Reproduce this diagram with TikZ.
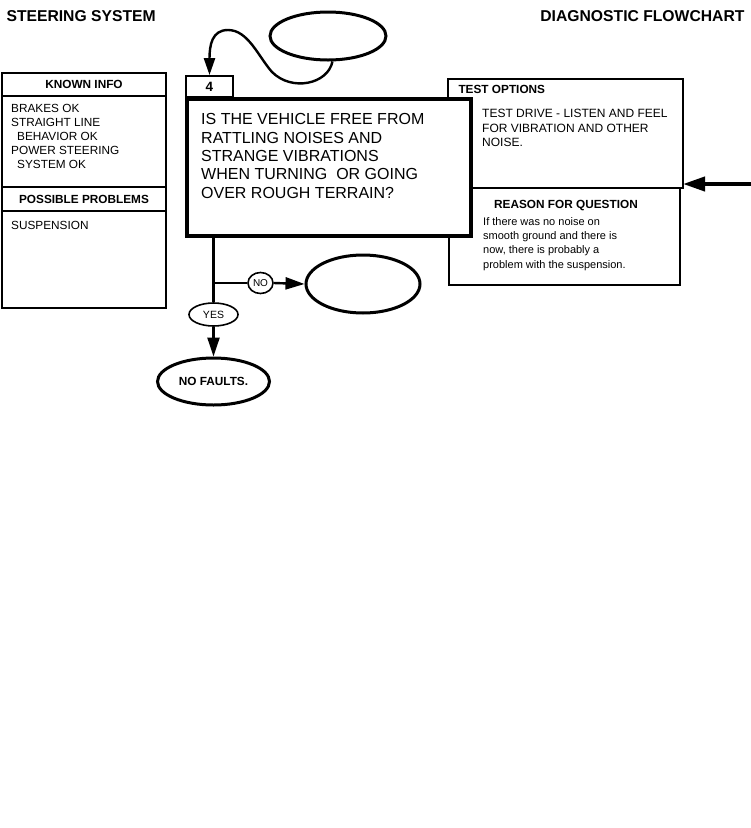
\documentclass[tikz,border=0pt]{standalone}
\usepackage{fontspec}
\setmainfont{Liberation Sans}
\usetikzlibrary{shapes.geometric, arrows.meta, positioning}

\tikzset{
  box/.style={draw, line width=1.8pt, inner sep=0pt, outer sep=0pt, minimum width=164pt},
  hdr/.style={font=\bfseries\fontsize{11.8}{14}\selectfont},
  txt/.style={anchor=north west, inner sep=0pt, align=left, font=\fontsize{11.8}{14}\selectfont},
  oval/.style={ellipse, draw, line width=3pt, inner sep=0pt},
  tag/.style={ellipse, draw, line width=1.6pt, inner sep=0pt},
  link/.style={line width=2.4pt},
  flow/.style={link, -{Triangle[length=19pt,width=12pt]}},
}

\begin{document}
\begin{tikzpicture}[x=1pt, y=-1pt]
  \useasboundingbox (0,0) rectangle (751,828);
  % Titulos
  \node[anchor=base west, font=\bfseries\fontsize{15.7}{18}\selectfont] (titleL) at (3,21) {STEERING SYSTEM};
  \node[anchor=base east, font=\bfseries\fontsize{15.7}{18}\selectfont] (titleR) at (748,21) {DIAGNOSTIC FLOWCHART};
  % Quadro de informacoes
  \node[box, hdr, minimum height=23pt] (knownhd) at (84,84.5) {KNOWN INFO};
  \node[box, minimum height=91pt, below=0pt of knownhd] (knownbd) {};
  \node[box, hdr, minimum height=24pt, below=0pt of knownbd] (probhd) {POSSIBLE PROBLEMS};
  \node[box, minimum height=97pt, below=0pt of probhd] (probbd) {};
  \node[txt] (knowntxt) at (11,104.5) {BRAKES OK\\STRAIGHT LINE\\\hspace*{6pt}BEHAVIOR OK\\POWER STEERING\\\hspace*{6pt}SYSTEM OK};
  \node[txt] (probtxt) at (11,221) {SUSPENSION};
  % Opcoes de teste e razao
  \node[draw, line width=1.8pt, inner sep=0pt, outer sep=0pt, minimum width=231pt, minimum height=97pt] (reason) at (564.5,236.5) {};
  \node[draw, line width=2.6pt, inner sep=0pt, outer sep=0pt, minimum width=235pt, minimum height=109pt] (testopt) at (565.5,133.5) {};
  \node[anchor=base west, hdr] (testhd) at (455,93) {TEST OPTIONS};
  \node[txt, font=\fontsize{12}{14.5}\selectfont] (testtxt) at (482,109) {TEST DRIVE - LISTEN AND FEEL\\FOR VIBRATION AND OTHER\\NOISE.};
  \node[anchor=base, hdr] (reasonhd) at (566,208) {REASON FOR QUESTION};
  \node[txt, font=\fontsize{11}{14.3}\selectfont] (reasontxt) at (483,217) {If there was no noise on\\smooth ground and there is\\now, there is probably a\\problem with the suspension.};
  % Pergunta
  \node[draw, line width=4pt, fill=white, inner sep=0pt, minimum width=284pt, minimum height=137pt] (question) at (329,167.5) {};
  \node[txt, font=\fontsize{16}{18.3}\selectfont] (qtext) at (201,113.5) {IS THE VEHICLE FREE FROM\\RATTLING NOISES AND\\STRANGE VIBRATIONS\\WHEN TURNING\ \ OR GOING\\OVER ROUGH TERRAIN?};
  \node[draw, line width=1.8pt, minimum width=47pt, minimum height=21pt, inner sep=0pt, font=\bfseries\fontsize{13.5}{15}\selectfont] (stepno) at (209.5,86.5) {4};
  % Elipses
  \node[oval, minimum width=116pt, minimum height=48pt] (entry) at (328,36) {};
  \node[oval, minimum width=114pt, minimum height=58pt] (nobranch) at (363,284) {};
  \node[oval, minimum width=112pt, minimum height=47pt, hdr] (nofault) at (213.5,381.5) {NO FAULTS.};
  \node[tag, minimum width=49pt, minimum height=23pt, font=\fontsize{10.5}{12}\selectfont] (yes) at (213.5,314.5) {YES};
  \node[tag, minimum width=25pt, minimum height=21pt, font=\fontsize{10}{12}\selectfont] (no) at (260.5,283) {NO};
  % Conexoes
  \draw[link, -{Triangle[length=17pt,width=11pt]}] (entry.-80) .. controls (328,84) and (292,92) .. (272,72)
    .. controls (258,56) and (248,30) .. (228,30) .. controls (212,30) and (209.5,45) .. (stepno.north);
  \draw[link] (yes.north |- question.south) -- (yes.north);
  \draw[link] (yes.north |- no.west) -- (no.west);
  \draw[flow] (no.east) -- (nobranch.west);
  \draw[flow] (yes.south) -- (nofault.north);
  \coordinate (feed) at (752,184);
  \draw[line width=4pt, -{Triangle[length=22pt,width=14pt]}] (feed) -- (feed -| testopt.east);
\end{tikzpicture}
\end{document}
